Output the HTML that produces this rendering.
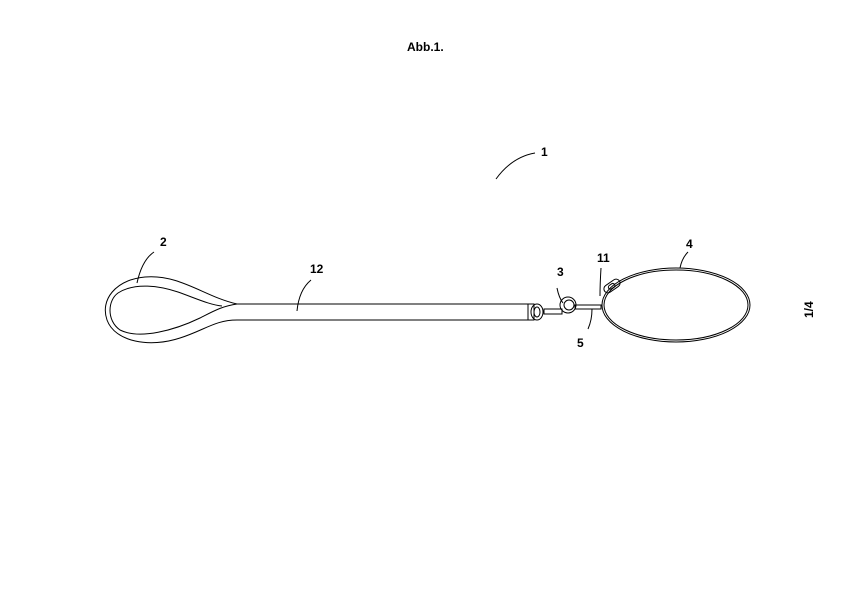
<!DOCTYPE html>
<html><head><style>body{margin:0;background:#fff}svg{display:block}text{font-family:"Liberation Sans",sans-serif;font-weight:bold;font-size:12px}</style></head>
<body><svg width="854" height="607" viewBox="0 0 854 607" xmlns="http://www.w3.org/2000/svg" fill="none" stroke="#000" stroke-width="1">
<text x="407" y="51" stroke="none" fill="#000">Abb.1.</text>
<text x="541" y="156" stroke="none" fill="#000">1</text>
<path d="M496 179 Q512 157 535 153"/>
<text x="160" y="246" stroke="none" fill="#000">2</text>
<path d="M137 283 Q142 260 154 252"/>
<text x="310" y="273" stroke="none" fill="#000">12</text>
<path d="M297 311 Q299 290 311 280"/>
<text x="557" y="276" stroke="none" fill="#000">3</text>
<text x="597" y="262" stroke="none" fill="#000">11</text>
<text x="686" y="248" stroke="none" fill="#000">4</text>
<text x="577" y="347" stroke="none" fill="#000">5</text>
<path d="M237 304 L530 304 M237 320 L530 320"/>
<path d="M237 304 C205 297 180 274 145 277 C115 280 100 300 107 320 C115 342 150 348 180 338 C205 330 215 320 237 320"/>
<path d="M237 304 C222 306 212 312 200 318 C175 330 140 340 120 330 C106 320 108 300 118 293 C135 282 160 286 178 292 C195 298 210 305 222 306"/>
<rect x="528" y="304" width="6" height="16"/>
<ellipse cx="537" cy="312" rx="6" ry="8"/>
<ellipse cx="537" cy="312" rx="3" ry="5"/>
<rect x="544" y="309" width="18" height="5"/>
<ellipse cx="568" cy="305" rx="8" ry="8"/>
<ellipse cx="569" cy="305" rx="5" ry="5"/>
<rect x="575" y="305" width="26" height="4"/>
<path d="M557 288 Q559 298 563 303"/>
<path d="M588 329 Q592 320 592 309"/>
<path d="M600 296 Q600 284 601 268"/>
<ellipse cx="676" cy="305" rx="74" ry="37"/>
<ellipse cx="676" cy="305" rx="72" ry="35"/>
<g transform="rotate(-35 612 286)"><rect x="603" y="282" width="18" height="8" rx="4"/><rect x="608" y="284" width="7" height="4" rx="2"/></g>
<path d="M680 268 Q682 258 688 252"/>
<text x="813" y="318" stroke="none" fill="#000" transform="rotate(-90 813 318)">1/4</text>
</svg></body></html>
